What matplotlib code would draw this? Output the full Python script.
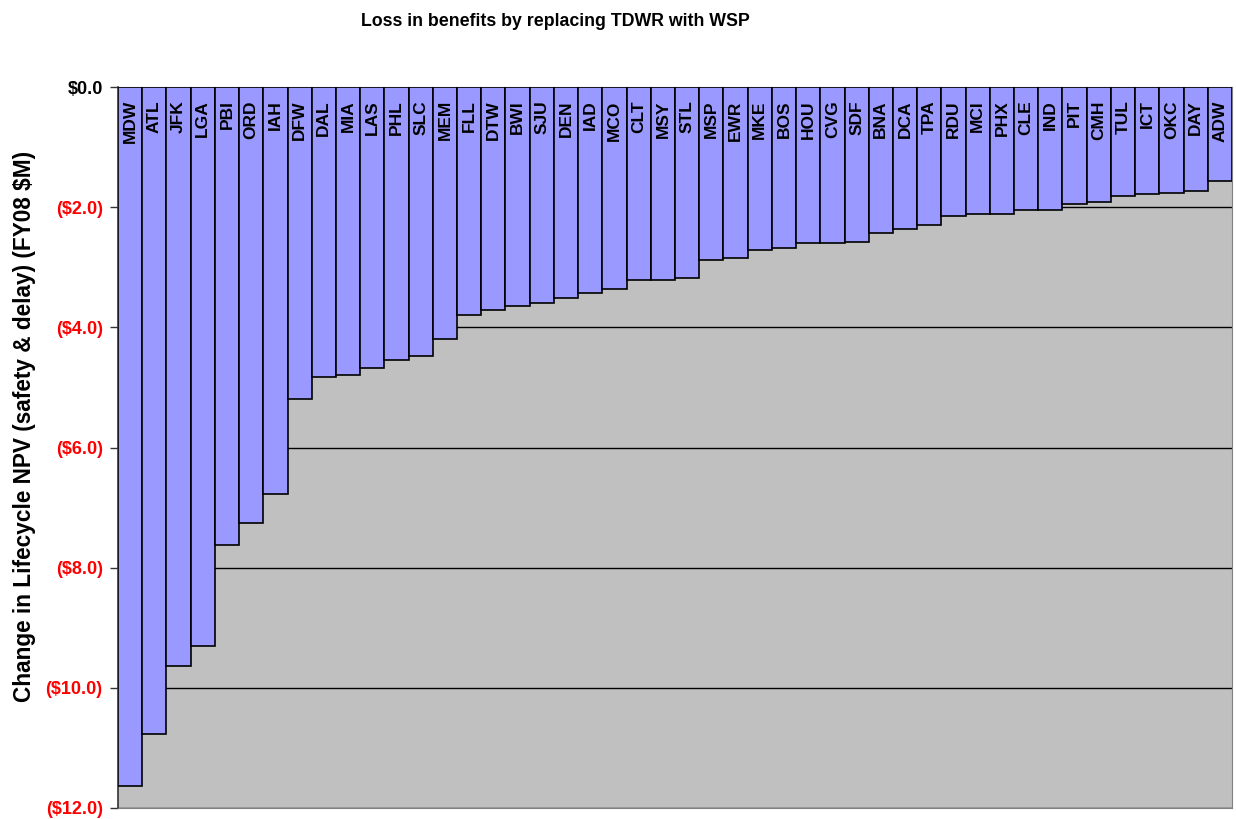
import matplotlib.pyplot as plt
from matplotlib.ticker import FuncFormatter

plt.rcParams['font.family'] = ['Liberation Sans', 'DejaVu Sans']
plt.rcParams['font.weight'] = 'bold'

# Airports and loss in lifecycle NPV ($M, FY08)
airports = ['MDW', 'ATL', 'JFK', 'LGA', 'PBI', 'ORD', 'IAH', 'DFW', 'DAL', 'MIA',
            'LAS', 'PHL', 'SLC', 'MEM', 'FLL', 'DTW', 'BWI', 'SJU', 'DEN', 'IAD',
            'MCO', 'CLT', 'MSY', 'STL', 'MSP', 'EWR', 'MKE', 'BOS', 'HOU', 'CVG',
            'SDF', 'BNA', 'DCA', 'TPA', 'RDU', 'MCI', 'PHX', 'CLE', 'IND', 'PIT',
            'CMH', 'TUL', 'ICT', 'OKC', 'DAY', 'ADW']
npv_change = [-11.63, -10.77, -9.63, -9.30, -7.62, -7.25, -6.78, -5.20, -4.82, -4.80,
              -4.67, -4.55, -4.47, -4.20, -3.80, -3.71, -3.65, -3.60, -3.52, -3.43,
              -3.37, -3.22, -3.22, -3.18, -2.88, -2.85, -2.72, -2.68, -2.60, -2.60,
              -2.58, -2.43, -2.37, -2.30, -2.15, -2.12, -2.12, -2.05, -2.05, -1.95,
              -1.92, -1.82, -1.78, -1.77, -1.73, -1.57]
y_ticks = [0, -2, -4, -6, -8, -10, -12]

fig = plt.figure(figsize=(12.36, 8.19), dpi=100)
ax = fig.add_axes([118 / 1236, 1 - 808 / 819, (1232 - 118) / 1236, (808 - 87) / 819])
ax.set_facecolor('#C0C0C0')

x = range(len(airports))
ax.bar(x, npv_change, width=1.0, color='#9999FF', edgecolor='black', linewidth=1.2, zorder=3)

for xi, name in zip(x, airports):
    ax.text(xi, -0.22, name, rotation=90, ha='center', va='top',
            fontsize=12.5, fontweight='bold', color='black', zorder=4)

ax.set_xlim(-0.5, len(airports) - 0.5)
ax.set_ylim(-12, 0)
ax.set_xticks([])
ax.set_yticks(y_ticks)


def money(v, pos):
    if v == 0:
        return '$0.0'
    return '(${:.1f})'.format(abs(v))


ax.yaxis.set_major_formatter(FuncFormatter(money))
ax.tick_params(axis='y', labelsize=13, length=6, width=1, pad=5, color='#333333')
for lbl, v in zip(ax.get_yticklabels(), y_ticks):
    lbl.set_color('black' if v == 0 else '#FF0000')
    lbl.set_fontweight('bold')

ax.grid(axis='y', color='black', linewidth=1, zorder=1)
ax.set_axisbelow(True)
for side in ['top', 'right', 'bottom']:
    ax.spines[side].set_color('#808080')
ax.spines['left'].set_color('#333333')
ax.spines['left'].set_linewidth(1.2)

fig.text(25 / 1236, 1 - 426 / 819, 'Change in Lifecycle NPV (safety & delay) (FY08 $M)',
         rotation=90, ha='center', va='center', fontsize=16.3, fontweight='bold')
fig.text(555 / 1236, 1 - 22 / 819, 'Loss in benefits by replacing TDWR with WSP',
         ha='center', va='center', fontsize=12.8, fontweight='bold')

fig.savefig('out.png', dpi=100)
